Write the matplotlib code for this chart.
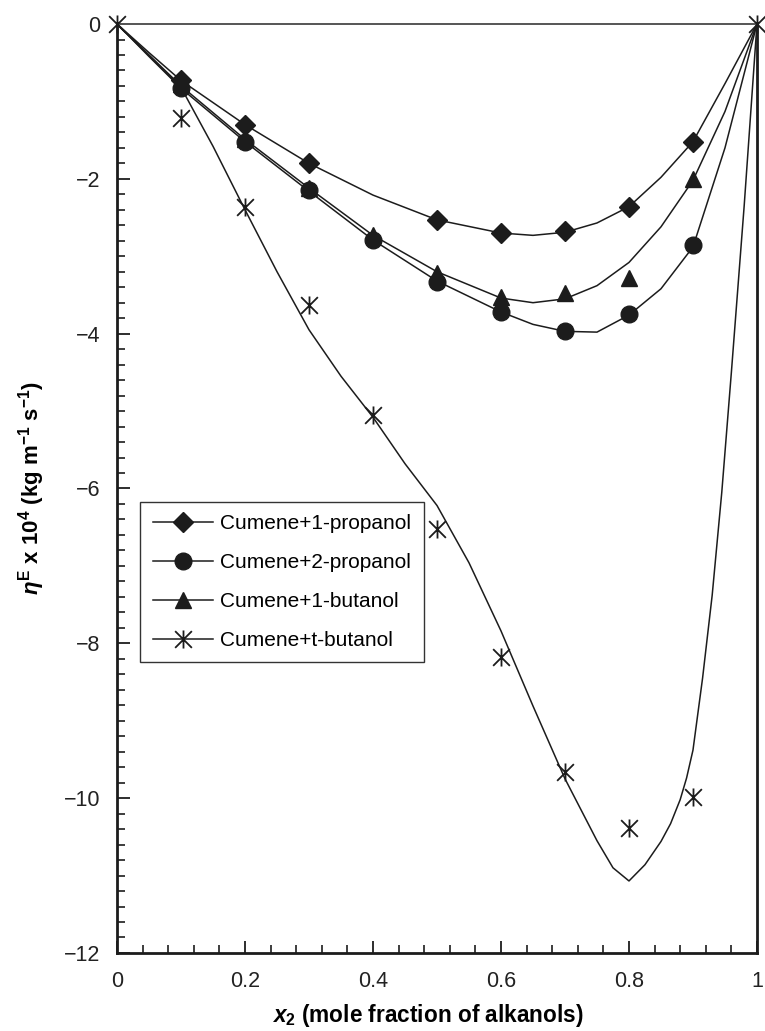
import matplotlib
matplotlib.use("Agg")
import matplotlib.pyplot as plt
from matplotlib.path import Path
from matplotlib.ticker import MultipleLocator, FuncFormatter

# measured points
x_pts = [0.1, 0.2, 0.3, 0.4, 0.5, 0.6, 0.7, 0.8, 0.9]
x_prop1 = [0.1, 0.2, 0.3, 0.5, 0.6, 0.7, 0.8, 0.9]
y_prop1 = [-0.72, -1.30, -1.80, -2.53, -2.70, -2.68, -2.36, -1.52]
y_prop2 = [-0.83, -1.52, -2.14, -2.79, -3.33, -3.72, -3.97, -3.74, -2.86]
y_but1 = [-0.78, -1.48, -2.12, -2.72, -3.22, -3.52, -3.48, -3.28, -2.00]
x_tbut = [0, 0.1, 0.2, 0.3, 0.4, 0.5, 0.6, 0.7, 0.8, 0.9, 1.0]
y_tbut = [0, -1.22, -2.36, -3.63, -5.05, -6.52, -8.18, -9.66, -10.39, -9.98, 0]

# fitted curves
xc = [0, 0.05, 0.1, 0.2, 0.3, 0.4, 0.5, 0.6, 0.65, 0.7, 0.75, 0.8, 0.85, 0.9, 0.95, 1]
yc_prop1 = [0, -0.37, -0.73, -1.30, -1.80, -2.21, -2.53, -2.70, -2.73, -2.69, -2.57, -2.36, -1.98, -1.52, -0.77, 0]
yc_prop2 = [0, -0.42, -0.83, -1.52, -2.16, -2.79, -3.32, -3.72, -3.88, -3.97, -3.98, -3.76, -3.42, -2.88, -1.60, 0]
yc_but1 = [0, -0.40, -0.80, -1.49, -2.12, -2.73, -3.20, -3.54, -3.60, -3.55, -3.38, -3.08, -2.62, -2.02, -1.13, 0]
xc_tbut = [0, 0.1, 0.15, 0.2, 0.25, 0.3, 0.35, 0.4, 0.45, 0.5, 0.55, 0.6, 0.65, 0.7, 0.75,
           0.775, 0.8, 0.825, 0.85, 0.865, 0.88, 0.89, 0.9, 0.915, 0.93, 0.945, 0.96, 0.98, 1]
yc_tbut = [0, -0.82, -1.58, -2.40, -3.20, -3.95, -4.55, -5.08, -5.68, -6.22, -6.96, -7.84, -8.81, -9.75, -10.55,
           -10.90, -11.07, -10.86, -10.56, -10.33, -10.02, -9.74, -9.38, -8.45, -7.38, -6.05, -4.50, -2.35, 0]

labels = ["Cumene+1-propanol", "Cumene+2-propanol", "Cumene+1-butanol", "Cumene+t-butanol"]

plt.rcParams["mathtext.fontset"] = "custom"
plt.rcParams["mathtext.rm"] = "Liberation Sans:bold"
plt.rcParams["mathtext.bf"] = "Liberation Sans:bold"
plt.rcParams["mathtext.it"] = "Liberation Sans:italic:bold"

FONT = "Liberation Sans"
INK = "#1c1c1c"

star = Path([(-1, -1), (1, 1), (-1, 1), (1, -1), (0, -1.08), (0, 1.08)],
            [Path.MOVETO, Path.LINETO] * 3)

fig = plt.figure(figsize=(7.65, 10.31), dpi=100)
ax = fig.add_axes([0.153, 0.0757, 0.8365, 0.901])

lw = 1.1
ax.plot(xc, yc_prop1, color=INK, lw=lw)
ax.plot(xc, yc_prop2, color=INK, lw=lw)
ax.plot(xc, yc_but1, color=INK, lw=lw)
ax.plot(xc_tbut, yc_tbut, color=INK, lw=lw)

ax.plot(x_prop1, y_prop1, ls="none", marker="D", ms=10.5, color=INK, clip_on=False)
ax.plot(x_pts, y_prop2, ls="none", marker="o", ms=12, color=INK, clip_on=False)
ax.plot(x_pts, y_but1, ls="none", marker="^", ms=12, color=INK, clip_on=False)
ax.plot(x_tbut, y_tbut, ls="none", marker=star, ms=13, mew=1.3, mfc="none", mec=INK,
        clip_on=False, zorder=5)

# legend proxies
h1, = ax.plot([], [], color=INK, lw=lw, marker="D", ms=10.5)
h2, = ax.plot([], [], color=INK, lw=lw, marker="o", ms=12)
h3, = ax.plot([], [], color=INK, lw=lw, marker="^", ms=12)
h4, = ax.plot([], [], color=INK, lw=lw, marker=star, ms=13, mew=1.3, mfc="none", mec=INK)
leg = ax.legend([h1, h2, h3, h4], labels, loc="upper left",
                bbox_to_anchor=(140 / 765, 1 - 502 / 1031), bbox_transform=fig.transFigure,
                borderaxespad=0, prop={"family": FONT, "size": 15}, frameon=True, fancybox=False,
                framealpha=1, edgecolor="#333333", handlelength=2.9, handletextpad=0.35,
                labelspacing=0.95, borderpad=0.6)
leg.get_frame().set_linewidth(1.0)

ax.set_xlim(0, 1)
ax.set_ylim(-12, 0)
ax.xaxis.set_major_locator(MultipleLocator(0.2))
ax.xaxis.set_minor_locator(MultipleLocator(0.04))
ax.yaxis.set_major_locator(MultipleLocator(2))
ax.yaxis.set_minor_locator(MultipleLocator(0.2))
ax.xaxis.set_major_formatter(FuncFormatter(lambda v, p: "%g" % round(v, 2)))
ax.yaxis.set_major_formatter(FuncFormatter(lambda v, p: ("%g" % v).replace("-", "\u2212")))

ax.tick_params(which="major", direction="in", length=9, width=1.3, colors=INK, labelsize=15.5)
ax.tick_params(which="minor", direction="in", length=6, width=1.2, colors=INK)
ax.tick_params(axis="x", which="both", top=False, pad=13)
ax.tick_params(axis="y", which="both", right=False, pad=12)
for lab in ax.get_xticklabels() + ax.get_yticklabels():
    lab.set_family(FONT)
    lab.set_color("#222222")

for s in ["left", "bottom", "right"]:
    ax.spines[s].set_linewidth(2.0)
    ax.spines[s].set_color(INK)
ax.spines["top"].set_linewidth(1.4)
ax.spines["top"].set_color("#555555")

ax.set_xlabel(r"$x_{\mathbf{2}}$ (mole fraction of alkanols)", fontsize=16.3, fontweight="bold",
              family=FONT, labelpad=7)
ax.xaxis.label.set_x(0.486)
ax.set_ylabel(r"$\eta^{\mathbf{E}}$ x 10$^{\mathbf{4}}$ (kg m$^{\mathbf{-1}}$ s$^{\mathbf{-1}}$)",
              fontsize=16, fontweight="bold", family=FONT, labelpad=12)

fig.savefig("out.png", dpi=100)
